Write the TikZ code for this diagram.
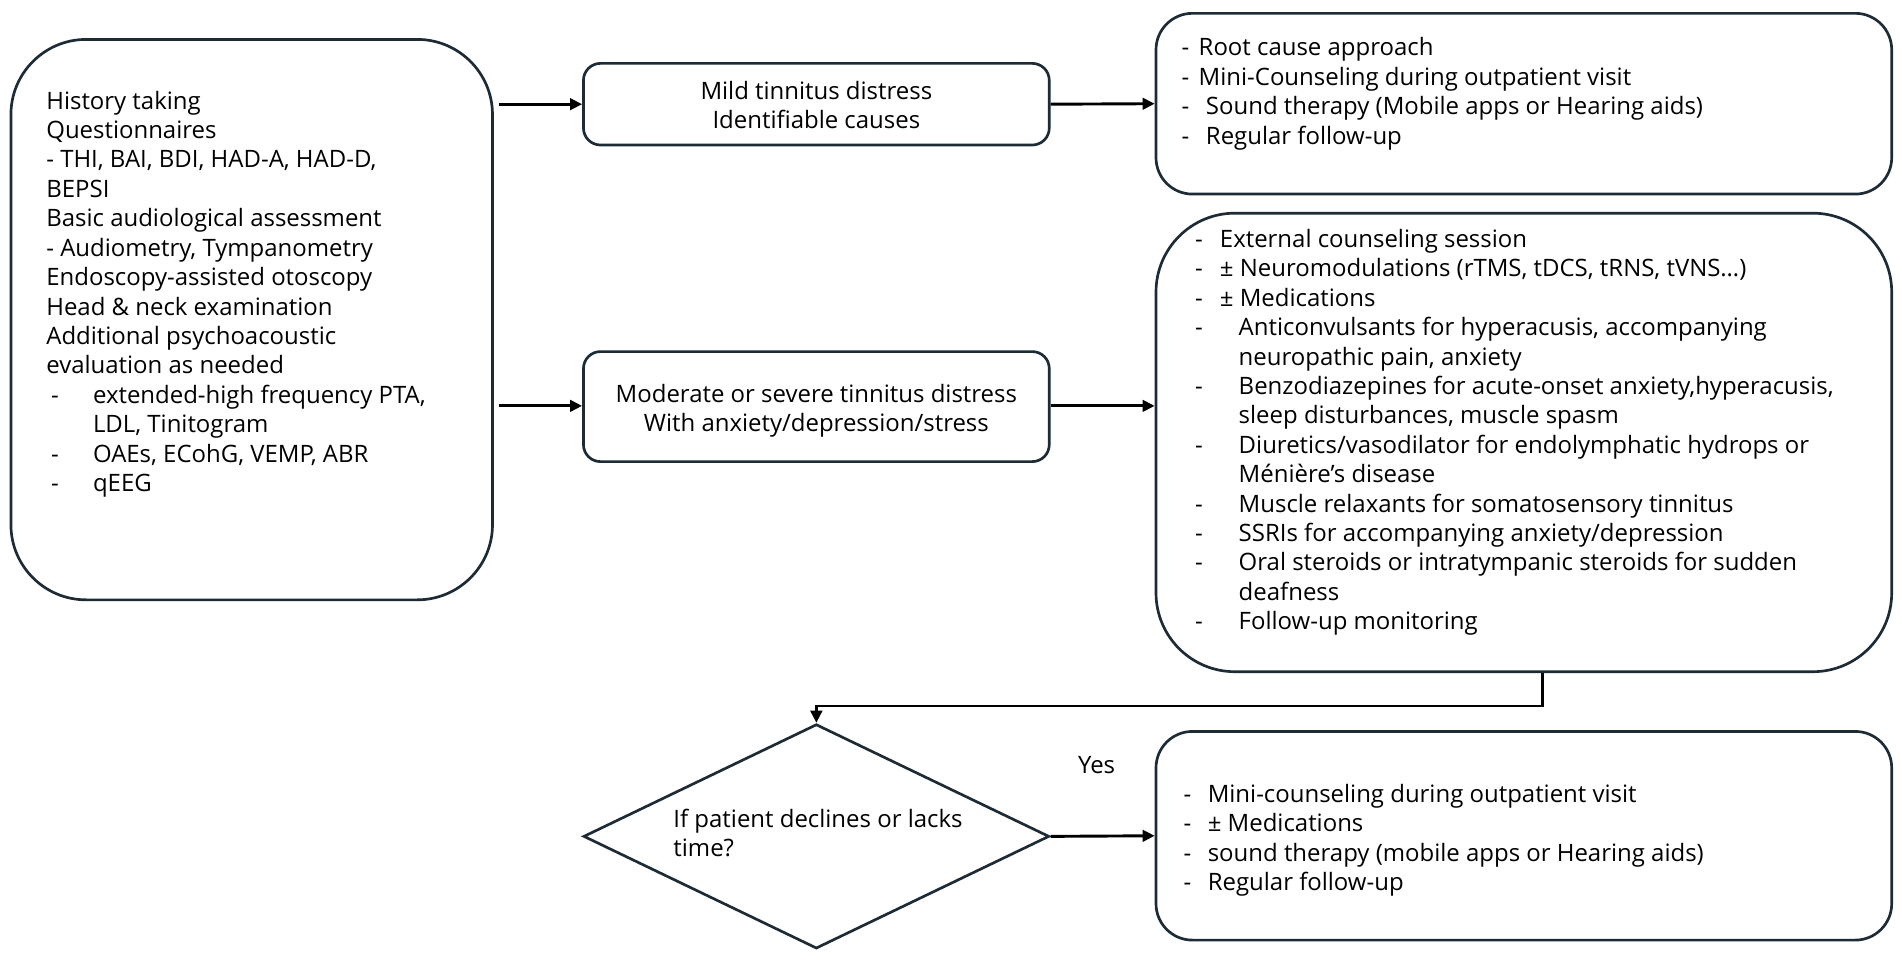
\documentclass[tikz,border=0pt]{standalone}
\usepackage{fontspec}
\setmainfont{Open Sans}
\usetikzlibrary{arrows.meta,shapes.geometric}
\definecolor{bordercol}{HTML}{1C2B36}
\newcommand\myfs{\fontsize{19.75}{24.25}\selectfont}
\newcommand\dsh[2]{\makebox[#2][l]{\hspace*{#1}-}}
\begin{document}
\begin{tikzpicture}[x=1pt,y=-1pt,
  box/.style={draw=bordercol, line width=2.2pt, fill=white, inner sep=0pt},
  txt/.style={inner sep=0pt, anchor=north west, align=left, font=\myfs},
  ctxt/.style={inner sep=0pt, anchor=north, align=center, font=\myfs},
  arr/.style={draw=black, line width=2.4pt, -{Triangle[length=10pt,width=9.5pt]}},
]
\useasboundingbox (0,0) rectangle (1568,791);
% boxes
\node[box, rounded corners=62pt, minimum width=397pt, minimum height=462pt] (left) at (207.5,263.5) {};
\node[box, rounded corners=14pt, minimum width=384pt, minimum height=67.3pt] (mild) at (673,85.9) {};
\node[box, rounded corners=30pt, minimum width=606.5pt, minimum height=149pt] (tr) at (1256.25,85.5) {};
\node[box, rounded corners=14pt, minimum width=384pt, minimum height=90.7pt] (mod) at (673,335.2) {};
\node[box, rounded corners=65pt, minimum width=606.5pt, minimum height=378pt] (mr) at (1256.25,364.75) {};
\node[box, diamond, minimum width=384pt, minimum height=185pt] (dia) at (673,689.5) {};
\node[box, rounded corners=30pt, minimum width=606.5pt, minimum height=172pt] (br) at (1256.25,689) {};
% texts
\node[txt] (lefttext) at (38,72.8) {\strut History taking\\
\strut Questionnaires\\
\strut - THI, BAI, BDI, HAD-A, HAD-D,\\
\strut BEPSI\\
\strut Basic audiological assessment\\
\strut - Audiometry, Tympanometry\\
\strut Endoscopy-assisted otoscopy\\
\strut Head \& neck examination\\
\strut Additional psychoacoustic\\
\strut evaluation as needed\\
\strut\dsh{4pt}{38.5pt}extended-high frequency PTA,\\
\strut\hspace*{38.5pt}LDL, Tinitogram\\
\strut\dsh{4pt}{38.5pt}OAEs, ECohG, VEMP, ABR\\
\strut\dsh{4pt}{38.5pt}qEEG};
\node[ctxt] (mildtext) at (673,64.5) {\strut Mild tinnitus distress\\ \strut Identifiable causes};
\node[ctxt] (modtext) at (673,314.5) {\strut Moderate or severe tinnitus distress\\ \strut With anxiety/depression/stress};
\node[txt] (trtext) at (974,28.8) {\strut\dsh{0pt}{14pt}Root cause approach\\
\strut\dsh{0pt}{14pt}Mini-Counseling during outpatient visit\\
\strut\dsh{0pt}{20pt}Sound therapy (Mobile apps or Hearing aids)\\
\strut\dsh{0pt}{20pt}Regular follow-up};
\node[txt] (mrtext) at (985,186.8) {\strut\dsh{0pt}{20.5pt}External counseling session\\
\strut\dsh{0pt}{20.5pt}± Neuromodulations (rTMS, tDCS, tRNS, tVNS…)\\
\strut\dsh{0pt}{20.5pt}± Medications\\
\strut\dsh{0pt}{36pt}Anticonvulsants for hyperacusis, accompanying\\
\strut\hspace*{36pt}neuropathic pain, anxiety\\
\strut\dsh{0pt}{36pt}Benzodiazepines for acute-onset anxiety,hyperacusis,\\
\strut\hspace*{36pt}sleep disturbances, muscle spasm\\
\strut\dsh{0pt}{36pt}Diuretics/vasodilator for endolymphatic hydrops or\\
\strut\hspace*{36pt}Ménière’s disease\\
\strut\dsh{0pt}{36pt}Muscle relaxants for somatosensory tinnitus\\
\strut\dsh{0pt}{36pt}SSRIs for accompanying anxiety/depression\\
\strut\dsh{0pt}{36pt}Oral steroids or intratympanic steroids for sudden\\
\strut\hspace*{36pt}deafness\\
\strut\dsh{0pt}{36pt}Follow-up monitoring};
\node[txt] (brtext) at (975.5,644.3) {\strut\dsh{0pt}{20pt}Mini-counseling during outpatient visit\\
\strut\dsh{0pt}{20pt}± Medications\\
\strut\dsh{0pt}{20pt}sound therapy (mobile apps or Hearing aids)\\
\strut\dsh{0pt}{20pt}Regular follow-up};
\node[txt] (diatext) at (555,665) {\strut If patient declines or lacks\\ \strut time?};
\node[inner sep=0pt, font=\myfs] (yes) at (904,631) {Yes};
% connectors
\draw[arr] ([xshift=4pt]left.east |- mild.west) -- (mild.west);
\draw[arr] ([xshift=4pt]left.east |- 0,334.6) -- (mod.west |- 0,334.6);
\draw[arr] (mild.east) -- (tr.west);
\draw[arr] (mod.east |- 0,334.6) -- (mr.west |- 0,334.6);
\coordinate (bend) at (1271.5,582);
\draw[arr] (mr.south -| bend) -- (bend) -| (dia.north);
\draw[arr] (dia.east) -- (br.west);
\end{tikzpicture}
\end{document}
